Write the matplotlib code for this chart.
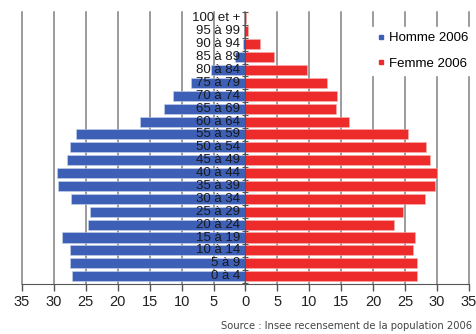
import numpy as np
import matplotlib.pyplot as plt
from matplotlib.lines import Line2D

# age groups, youngest first
ages = ['0 à 4', '5 à 9', '10 à 14', '15 à 19', '20 à 24', '25 à 29', '30 à 34',
        '35 à 39', '40 à 44', '45 à 49', '50 à 54', '55 à 59', '60 à 64', '65 à 69',
        '70 à 74', '75 à 79', '80 à 84', '85 à 89', '90 à 94', '95 à 99', '100 et +']
hommes = [27.1, 27.5, 27.5, 28.75, 24.7, 24.4, 27.3, 29.3, 29.5, 27.9, 27.5,
          26.6, 16.5, 12.8, 11.4, 8.5, 5.4, 1.7, 0.4, 0.1, 0.05]
femmes = [26.8, 26.8, 26.3, 26.5, 23.3, 24.6, 28.1, 29.7, 30.0, 28.9, 28.3,
          25.4, 16.2, 14.1, 14.4, 12.7, 9.6, 4.4, 2.2, 0.4, 0.1]
xticks = np.arange(-35, 36, 5)

bleu = '#3d5fb5'
rouge = '#ee2b2b'

plt.rcParams['font.family'] = ['Liberation Sans', 'DejaVu Sans']

fig = plt.figure(figsize=(4.77, 3.34), dpi=100)
ax = fig.add_axes([22/477, 0.150, 447/477, 0.814])

y = np.arange(len(ages))
ax.barh(y, -np.array(hommes), height=0.78, color=bleu, edgecolor='#c8d2ec',
        linewidth=0.4, zorder=2)
ax.barh(y, femmes, height=0.78, color=rouge, edgecolor='#f6b0b0',
        linewidth=0.4, zorder=2)

for i, lab in enumerate(ages):
    ax.text(-0.8, i, lab, ha='right', va='center', fontsize=9.5,
            color='#1a1a1a', zorder=4)

ax.set_xlim(-35, 35)
ax.set_ylim(-0.6, 20.5)

for xv in xticks:
    ax.axvline(xv, color='#808080', lw=1.1, zorder=1, clip_on=False)

ax.set_xticks(xticks)
ax.set_xticklabels([str(abs(v)) for v in xticks], fontsize=10.5, color='#222222')
ax.tick_params(axis='x', direction='out', length=5, width=1, color='#555555', pad=3)

# vertical axis through zero with ticks between age groups
ax.spines['left'].set_position(('data', 0))
ax.spines['left'].set_color('#555555')
ax.spines['left'].set_zorder(3)
ax.set_yticks(np.arange(-0.5, 21, 1))
ax.set_yticklabels([])
ax.tick_params(axis='y', direction='inout', length=5, width=0.8, color='#555555')
ax.spines['right'].set_visible(False)
ax.spines['top'].set_visible(False)
ax.spines['bottom'].set_color('#555555')

handles = [Line2D([], [], ls='', marker='s', ms=3, color=bleu),
           Line2D([], [], ls='', marker='s', ms=3, color=rouge)]
leg = ax.legend(handles, ['Homme 2006', 'Femme 2006'], loc='upper right',
                bbox_to_anchor=(1.025, 0.97), fontsize=9.5, frameon=True,
                handlelength=0.6, handletextpad=0.3, labelspacing=1.0,
                borderpad=0.4, fancybox=False)
leg.get_frame().set_edgecolor('white')
leg.get_frame().set_facecolor('white')
leg.get_frame().set_alpha(1)
leg.set_zorder(5)

fig.text(472/477, 1 - 326/334, 'Source : Insee recensement de la population 2006',
         ha='right', va='center', fontsize=8, color='#444444',
         family=['DejaVu Sans'], fontstretch='condensed')

fig.savefig('out.png', dpi=100)
